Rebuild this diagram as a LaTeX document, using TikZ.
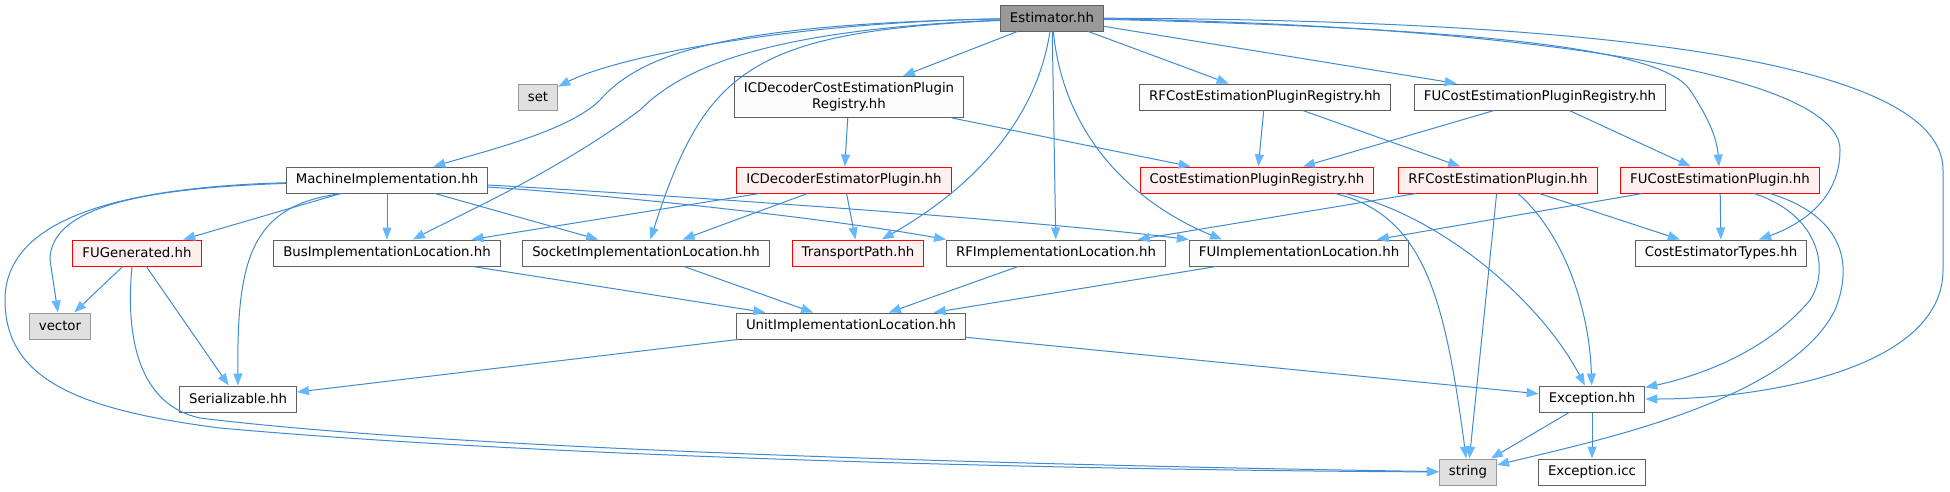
\documentclass[tikz,border=0pt]{standalone}
\usepackage{fontspec}
\setmainfont{DejaVu Sans}
\usepackage{tikz}
\usetikzlibrary{arrows.meta}
\definecolor{edgeblue}{HTML}{3F8AD0}
\definecolor{headblue}{HTML}{63B8FF}
\definecolor{boxgray}{HTML}{606060}
\definecolor{sysgray}{HTML}{999999}
\definecolor{sysfill}{HTML}{E0E0E0}
\definecolor{redfill}{HTML}{FFF0F0}
\definecolor{plainfill}{HTML}{FBFCFB}
\tikzset{
  incbox/.style={draw=boxgray, fill=plainfill, line width=1pt, minimum height=26pt,
                 inner xsep=9.5pt, inner ysep=2pt, font=\fontsize{13.3}{16}\selectfont},
  mainbox/.style={incbox, fill=sysgray},
  sysbox/.style={incbox, draw=sysgray, fill=sysfill},
  redbox/.style={incbox, draw=red, fill=redfill},
  dep/.style={draw=edgeblue, line width=1pt, -{Triangle[length=12pt,width=9pt,color=headblue]}},
}
\begin{document}
\begin{tikzpicture}[x=1pt, y=-1pt]
\useasboundingbox (0,0) rectangle (1950,491);
% rows of headers
\node[mainbox] (est) at (1052,18) {Estimator.hh};
\node[sysbox] (set) at (538,97) {set};
\node[incbox, minimum height=41pt, align=center] (icdreg) at (849,97) {ICDecoderCostEstimationPlugin\\Registry.hh};
\node[incbox] (rfreg) at (1265,97) {RFCostEstimationPluginRegistry.hh};
\node[incbox] (fureg) at (1540,97) {FUCostEstimationPluginRegistry.hh};
\node[incbox] (machimpl) at (387,180) {MachineImplementation.hh};
\node[redbox] (icdplug) at (844,180) {ICDecoderEstimatorPlugin.hh};
\node[redbox] (costreg) at (1257,180) {CostEstimationPluginRegistry.hh};
\node[redbox] (rfplug) at (1498,180) {RFCostEstimationPlugin.hh};
\node[redbox] (fuplug) at (1720,180) {FUCostEstimationPlugin.hh};
\node[redbox] (fugen) at (137,253) {FUGenerated.hh};
\node[incbox] (busloc) at (387,253) {BusImplementationLocation.hh};
\node[incbox] (sockloc) at (646,253) {SocketImplementationLocation.hh};
\node[redbox] (tpath) at (858,253) {TransportPath.hh};
\node[incbox] (rfloc) at (1056,253) {RFImplementationLocation.hh};
\node[incbox] (fuloc) at (1299,253) {FUImplementationLocation.hh};
\node[incbox] (cetypes) at (1721,253) {CostEstimatorTypes.hh};
\node[sysbox] (vecstd) at (60,326) {vector};
\node[incbox] (unitloc) at (851,326) {UnitImplementationLocation.hh};
\node[incbox] (serial) at (238,399) {Serializable.hh};
\node[incbox] (exc) at (1592,399) {Exception.hh};
\node[sysbox] (strstd) at (1468,472) {string};
\node[incbox] (excicc) at (1592,472) {Exception.icc};

% Estimator.hh
\draw[dep] (est) .. controls (800,22) and (620,55) .. (set);
\draw[dep] (est) .. controls (720,24) and (640,55) .. (600,100) .. controls (570,130) and (490,150) .. (machimpl);
\draw[dep] (est) .. controls (760,30) and (680,70) .. (640,110) .. controls (560,170) and (460,215) .. (busloc);
\draw[dep] (est) .. controls (750,32) and (705,70) .. (sockloc);
\draw[dep] (est) -- (icdreg);
\draw[dep] (est) .. controls (1035,130) and (960,195) .. (tpath);
\draw[dep] (est) -- (rfloc);
\draw[dep] (est) .. controls (1065,150) and (1150,210) .. ([xshift=-77pt]fuloc.north);
\draw[dep] (est) -- (rfreg);
\draw[dep] (est) -- (fureg);
\draw[dep] (est) .. controls (1450,28) and (1660,45) .. (1690,90) .. controls (1710,120) and (1717,140) .. (fuplug);
\draw[dep] (est) .. controls (1500,25) and (1840,70) .. (1840,150) .. controls (1840,200) and (1800,225) .. (cetypes);
\draw[dep] (est) .. controls (1600,20) and (1943,60) .. (1943,170) -- (1943,270) .. controls (1943,370) and (1760,399) .. (exc);

% MachineImplementation.hh
\draw[dep] (machimpl) .. controls (150,188) and (50,205) .. (50,260) -- (vecstd);
\draw[dep] (machimpl) .. controls (90,188) and (5,230) .. (5,300) .. controls (5,380) and (80,410) .. (220,428) .. controls (600,462) and (1200,471) .. (strstd);
\draw[dep] (machimpl) -- (fugen);
\draw[dep] (machimpl) -- (busloc);
\draw[dep] (machimpl) -- (sockloc);
\draw[dep] ([yshift=-7pt]machimpl.east) .. controls (650,198) and (850,222) .. (rfloc.north west);
\draw[dep] ([yshift=-5pt]machimpl.east) .. controls (700,197) and (1050,222) .. (fuloc.north west);
\draw[dep] ([xshift=-45pt]machimpl.south) .. controls (250,205) and (237,260) .. (serial);

% plugin registries and plugins
\draw[dep] (icdreg) -- (icdplug);
\draw[dep] (icdreg) -- (costreg);
\draw[dep] (icdplug) -- (busloc);
\draw[dep] (icdplug) -- (sockloc);
\draw[dep] (icdplug) -- (tpath);
\draw[dep] (rfreg) -- (costreg);
\draw[dep] (rfreg) -- (rfplug);
\draw[dep] (fureg) -- (costreg);
\draw[dep] (fureg) -- (fuplug);
\draw[dep] ([xshift=78pt]costreg.south) .. controls (1425,215) and (1445,300) .. (strstd);
\draw[dep] ([xshift=88pt]costreg.south) .. controls (1440,215) and (1540,300) .. (exc);
\draw[dep] (rfplug) -- (rfloc);
\draw[dep] (rfplug) -- (strstd);
\draw[dep] ([xshift=20pt]rfplug.south) .. controls (1570,240) and (1590,320) .. (exc);
\draw[dep] (rfplug) -- (cetypes);
\draw[dep] (fuplug) -- (fuloc);
\draw[dep] (fuplug) -- (cetypes);
\draw[dep] ([xshift=34pt]fuplug.south) .. controls (1820,215) and (1830,270) .. (1810,300) .. controls (1760,360) and (1680,380) .. (exc);
\draw[dep] ([xshift=50pt]fuplug.south) .. controls (1840,215) and (1855,260) .. (1835,310) .. controls (1790,400) and (1600,440) .. (strstd);

% FUGenerated.hh and locations
\draw[dep] (fugen) -- (vecstd);
\draw[dep] (fugen) -- (serial);
\draw[dep] ([xshift=-5pt]fugen.south) .. controls (125,340) and (140,405) .. (200,418) .. controls (500,455) and (1200,468) .. (strstd);
\draw[dep] (busloc) -- (unitloc);
\draw[dep] (sockloc) -- (unitloc);
\draw[dep] (rfloc) -- (unitloc);
\draw[dep] (fuloc) -- (unitloc);
\draw[dep] (unitloc) -- (serial);
\draw[dep] (unitloc) -- (exc);
\draw[dep] (exc) -- (strstd);
\draw[dep] (exc) -- (excicc);
\end{tikzpicture}
\end{document}
